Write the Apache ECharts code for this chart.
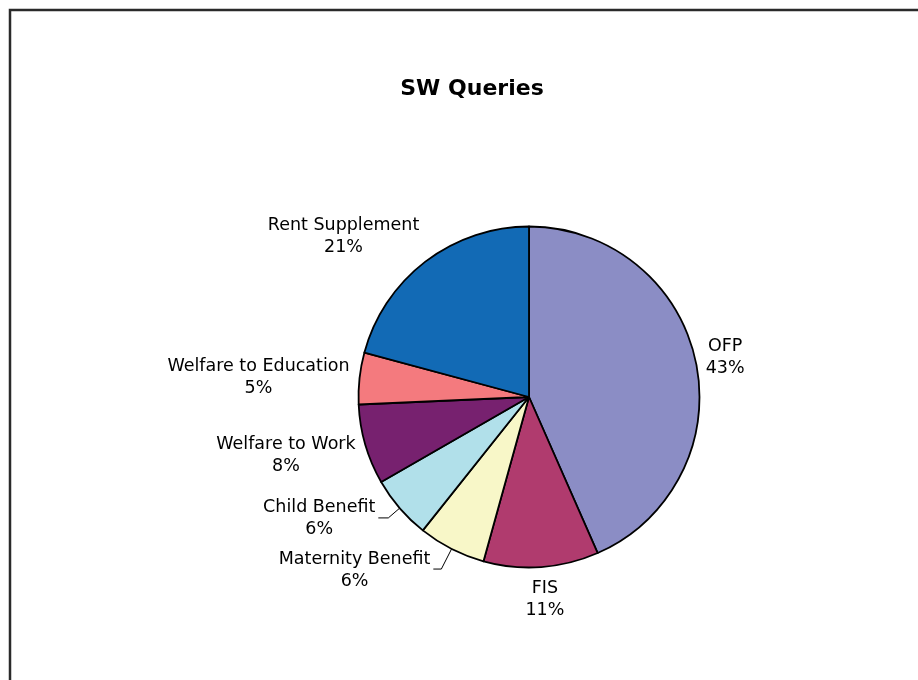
<!DOCTYPE html>
<html>
<head>
<meta charset="utf-8">
<style>
  html, body { margin: 0; padding: 0; background: #ffffff; }
  #chart { width: 918px; height: 680px; }
</style>
<script src="https://cdn.jsdelivr.net/npm/echarts@6/dist/echarts.min.js"></script>
</head>
<body>
<div id="chart"></div>
<script>
// ---- data ----
const categories = ['OFP', 'FIS', 'Maternity Benefit', 'Child Benefit', 'Welfare to Work', 'Welfare to Education', 'Rent Supplement'];
const values = [43.4, 10.9, 6.4, 6.0, 7.6, 4.9, 20.8];
const colors = ['#8B8DC5', '#B03B6E', '#F8F7C8', '#B1E0EA', '#77216F', '#F47A7E', '#126AB5'];
const titleText = 'SW Queries';

// ---- layout constants ----
const CX = 529, CY = 397, R = 170.5;
const FONT = 'DejaVu Sans';
// categories whose labels are attached with a leader line, and that line's lengths
const leaderLines = {
  'Maternity Benefit': { length: 22.6, length2: 8 },
  'Child Benefit': { length: 15, length2: 10 }
};

const total = values.reduce((a, b) => a + b, 0);
const midAngles = [];
{
  let acc = 0;
  values.forEach(v => {
    midAngles.push((acc + v / 2) / total * 2 * Math.PI);
    acc += v;
  });
}

const seriesData = categories.map((name, i) => {
  const ll = leaderLines[name];
  return {
    name: name,
    value: values[i],
    itemStyle: { color: colors[i] },
    labelLine: ll ? { show: true, length: ll.length, length2: ll.length2 } : { show: false, length: 10, length2: 0 }
  };
});

const chart = echarts.init(document.getElementById('chart'), null, { renderer: 'canvas' });

chart.setOption({
  animation: false,
  backgroundColor: '#ffffff',
  title: {
    text: titleText,
    left: 467,
    top: 73,
    textAlign: 'center',
    textStyle: { fontFamily: FONT, fontWeight: 'bold', fontSize: 22, color: '#000' }
  },
  graphic: [{
    type: 'rect',
    shape: { x: 10, y: 10, width: 1200, height: 1000 },
    style: { fill: 'none', stroke: '#2a2a2a', lineWidth: 2.5 },
    silent: true,
    z: 100
  }],
  series: [{
    type: 'pie',
    center: [CX, CY],
    radius: R,
    startAngle: 90,
    clockwise: true,
    avoidLabelOverlap: false,
    data: seriesData,
    itemStyle: { borderColor: '#000', borderWidth: 1.8 },
    emphasis: { disabled: true },
    label: {
      show: true,
      position: 'outside',
      distanceToLabelLine: 3,
      fontFamily: FONT,
      fontSize: 17.5,
      lineHeight: 22,
      color: '#000',
      formatter: p => p.name + '\n' + Math.round(p.percent) + '%'
    },
    labelLine: {
      lineStyle: { color: '#000', width: 1 },
      minTurnAngle: 0,
      maxSurfaceAngle: 180
    },
    labelLayout: function (params) {
      const idx = params.dataIndex;
      const w = params.labelRect.width, h = params.labelRect.height;
      if (leaderLines[categories[idx]]) {
        return {
          x: params.labelRect.x + w / 2,
          y: params.labelRect.y + h / 2 + 1,
          align: 'center',
          verticalAlign: 'middle',
          labelLinePoints: params.labelLinePoints
        };
      }
      const a = midAngles[idx];
      const dx = Math.sin(a), dy = -Math.cos(a);
      const px = CX + (R + 10) * dx, py = CY + (R + 10) * dy;
      const fx = Math.max(-1, Math.min(1, 2 * dx));
      return {
        x: px + fx * w / 2,
        y: py + dy * h / 2 + 3 * (1 - Math.abs(dy)),
        align: 'center',
        verticalAlign: 'middle'
      };
    }
  }]
});
</script>
</body>
</html>
